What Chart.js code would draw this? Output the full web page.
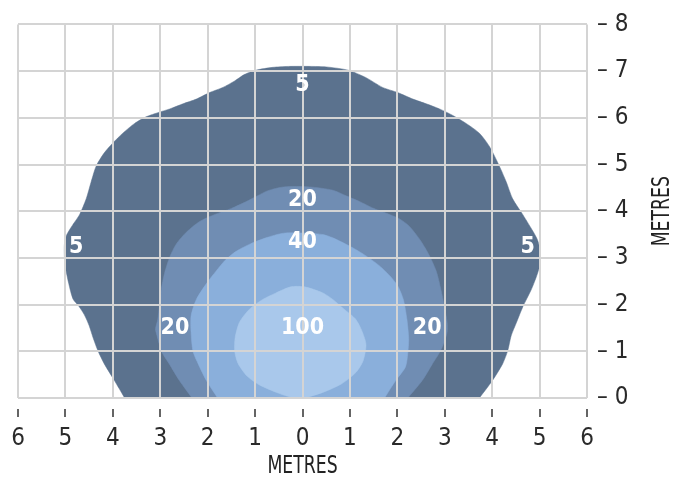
<!DOCTYPE html>
<html>
<head>
<meta charset="utf-8">
<script src="https://cdn.jsdelivr.net/npm/chart.js@4.4.1/dist/chart.umd.min.js"></script>
<style>
    html, body { margin: 0; padding: 0; background: #ffffff; }
    #wrap { width: 684px; height: 482px; }
</style>
</head>
<body>
<div id="wrap"><canvas id="isolux" width="684" height="482"></canvas></div>
<script>
// Isolux contours, metres from the fitting (x across, y forward)
const xTicks = [-6, -5, -4, -3, -2, -1, 0, 1, 2, 3, 4, 5, 6];
const yTicks = [0, 1, 2, 3, 4, 5, 6, 7, 8];

const lux5 = [
    [-3.75, 0], [-3.97, 0.38], [-4.18, 0.73], [-4.31, 1.0], [-4.42, 1.3], [-4.5, 1.55], [-4.6, 1.78],
    [-4.72, 1.97], [-4.84, 2.12], [-4.93, 2.45], [-5.0, 2.8], [-5.02, 3.0], [-5.02, 3.3], [-4.97, 3.5],
    [-4.85, 3.7], [-4.7, 3.93], [-4.56, 4.27], [-4.46, 4.62], [-4.35, 4.97], [-4.18, 5.25], [-4.0, 5.46],
    [-3.79, 5.67], [-3.54, 5.88], [-3.3, 6.02], [-3.02, 6.12], [-2.8, 6.19], [-2.52, 6.3], [-2.24, 6.4],
    [-1.96, 6.54], [-1.68, 6.65], [-1.43, 6.79], [-1.22, 6.93], [-0.98, 7.02], [-0.63, 7.08], [-0.3, 7.1],
    [0.2, 7.1], [0.5, 7.09], [0.96, 7.02], [1.34, 6.86], [1.69, 6.65], [2.01, 6.54], [2.33, 6.4],
    [2.61, 6.3], [2.89, 6.19], [3.17, 6.05], [3.45, 5.88], [3.73, 5.67], [3.94, 5.39], [4.15, 4.97],
    [4.3, 4.62], [4.43, 4.27], [4.65, 3.92], [4.86, 3.57], [4.95, 3.4], [5.0, 3.22], [5.01, 2.87],
    [4.93, 2.59], [4.82, 2.31], [4.65, 1.96], [4.51, 1.61], [4.4, 1.33], [4.33, 1.02], [4.22, 0.73],
    [4.01, 0.38], [3.73, 0]
];
const lux20 = [
    [-2.33, 0], [-2.6, 0.38], [-2.81, 0.73], [-2.97, 0.99], [-3.07, 1.34], [-3.1, 1.48], [-3.05, 1.69],
    [-3.02, 1.97], [-2.98, 2.32], [-2.91, 2.67], [-2.8, 3.02], [-2.66, 3.3], [-2.45, 3.55], [-2.17, 3.78],
    [-1.85, 3.93], [-1.5, 4.06], [-1.2, 4.2], [-0.95, 4.33], [-0.73, 4.44], [-0.4, 4.52], [0.15, 4.52],
    [0.64, 4.45], [0.92, 4.33], [1.2, 4.21], [1.48, 4.07], [1.76, 3.96], [2.04, 3.84], [2.25, 3.68],
    [2.47, 3.4], [2.65, 3.1], [2.82, 2.72], [2.92, 2.32], [2.99, 1.97], [3.05, 1.62], [3.05, 1.41],
    [2.99, 1.2], [2.9, 0.99], [2.74, 0.73], [2.53, 0.38], [2.22, 0]
];
const lux40 = [
    [-1.79, 0], [-2.03, 0.38], [-2.2, 0.73], [-2.31, 1.0], [-2.35, 1.4], [-2.35, 1.76], [-2.24, 2.11],
    [-2.02, 2.46], [-1.82, 2.72], [-1.63, 2.95], [-1.4, 3.14], [-1.1, 3.3], [-0.77, 3.43], [-0.4, 3.53],
    [0.1, 3.53], [0.43, 3.5], [0.64, 3.43], [1.0, 3.25], [1.3, 3.07], [1.6, 2.85], [1.83, 2.63],
    [2.01, 2.4], [2.13, 2.1], [2.2, 1.7], [2.24, 1.27], [2.22, 0.95], [2.17, 0.66], [1.97, 0.38], [1.73, 0]
];
const lux100 = [
    [-0.2, 0], [-0.5, 0.1], [-0.91, 0.28], [-1.17, 0.47], [-1.36, 0.74], [-1.43, 1.0], [-1.42, 1.3],
    [-1.33, 1.62], [-1.12, 1.9], [-0.84, 2.11], [-0.56, 2.25], [-0.25, 2.38], [0.05, 2.38], [0.43, 2.25],
    [0.64, 2.11], [0.88, 1.9], [1.12, 1.69], [1.26, 1.42], [1.34, 1.14], [1.28, 0.8], [1.13, 0.55],
    [0.82, 0.3], [0.43, 0.12], [0.05, 0]
];

const contourLevels = ['100', '40', '20', '5'];
const contourColors = ['#a9c8eb', '#8aafdb', '#708db3', '#5b728e'];
const contourShapes = [lux100, lux40, lux20, lux5];

// level labels placed on the plot, in metres
const labelText = ['5', '5', '5', '20', '40', '20', '100', '20'];
const labelX = [0, -4.77, 4.75, 0, 0, -2.69, 0, 2.63];
const labelY = [6.71, 3.24, 3.24, 4.24, 3.33, 1.5, 1.5, 1.5];

const FONT = "'Liberation Sans Narrow', 'DejaVu Sans Condensed', 'Roboto', sans-serif";
const GRID = '#d4d4d4';

// condensed axis title, squeezed along the text direction
function drawTitle(ctx, text, x, y, angle) {
    ctx.save();
    ctx.translate(x, y);
    ctx.rotate(angle);
    ctx.scale(0.8, 1);
    ctx.fillStyle = '#222222';
    ctx.font = "24px " + FONT;
    ctx.textAlign = 'center';
    ctx.textBaseline = 'middle';
    ctx.fillText(text, 0, 0);
    ctx.restore();
}

const levelLabels = {
    id: 'levelLabels',
    afterDraw(chart) {
        const ctx = chart.ctx;
        const xs = chart.scales.x;
        const ys = chart.scales.y;
        ctx.save();
        ctx.fillStyle = '#ffffff';
        ctx.font = "bold 23px " + FONT;
        ctx.textAlign = 'center';
        ctx.textBaseline = 'middle';
        labelText.forEach((t, i) => {
            ctx.fillText(t, xs.getPixelForValue(labelX[i]), ys.getPixelForValue(labelY[i]));
        });
        ctx.restore();

        const area = chart.chartArea;
        drawTitle(ctx, 'METRES', (area.left + area.right) / 2, 467, 0);
        drawTitle(ctx, 'METRES', 663, (area.top + area.bottom) / 2, -Math.PI / 2);
    }
};

const datasets = contourShapes.map((shape, i) => ({
    label: contourLevels[i] + ' lux',
    data: shape.map(p => ({ x: p[0], y: p[1] })),
    showLine: true,
    fill: 'shape',
    backgroundColor: contourColors[i],
    borderColor: contourColors[i],
    borderWidth: 0.5,
    pointRadius: 0,
    tension: 0.25
}));

new Chart(document.getElementById('isolux'), {
    type: 'scatter',
    data: { datasets },
    options: {
        responsive: false,
        animation: false,
        events: [],
        layout: { padding: { left: 18, top: 18, right: 0, bottom: 0 } },
        plugins: {
            legend: { display: false },
            tooltip: { enabled: false }
        },
        scales: {
            x: {
                type: 'linear',
                min: -6,
                max: 6,
                afterFit(scale) { scale.height = 84; },
                afterBuildTicks(scale) { scale.ticks = xTicks.map(v => ({ value: v })); },
                grid: {
                    z: 1,
                    color: GRID,
                    lineWidth: 2,
                    tickLength: 20,
                    tickColor: '#333333',
                    tickWidth: 1.5,
                    tickBorderDash: [0, 11, 8, 100]
                },
                // the edge grid lines already frame the plot
                border: { display: false },
                ticks: {
                    padding: 6,
                    color: '#2a2a2a',
                    font: { family: FONT, size: 24 },
                    callback: v => Math.abs(v)
                }
            },
            y: {
                type: 'linear',
                position: 'right',
                min: 0,
                max: 8,
                afterFit(scale) { scale.width = 97; },
                afterBuildTicks(scale) { scale.ticks = yTicks.map(v => ({ value: v })); },
                grid: {
                    z: 1,
                    color: GRID,
                    lineWidth: 2,
                    drawTicks: false
                },
                border: { display: false },
                ticks: {
                    padding: 10,
                    color: '#2a2a2a',
                    font: { family: FONT, size: 24 },
                    callback: v => '\u2013 ' + v
                }
            }
        }
    },
    plugins: [levelLabels]
});
</script>
</body>
</html>
